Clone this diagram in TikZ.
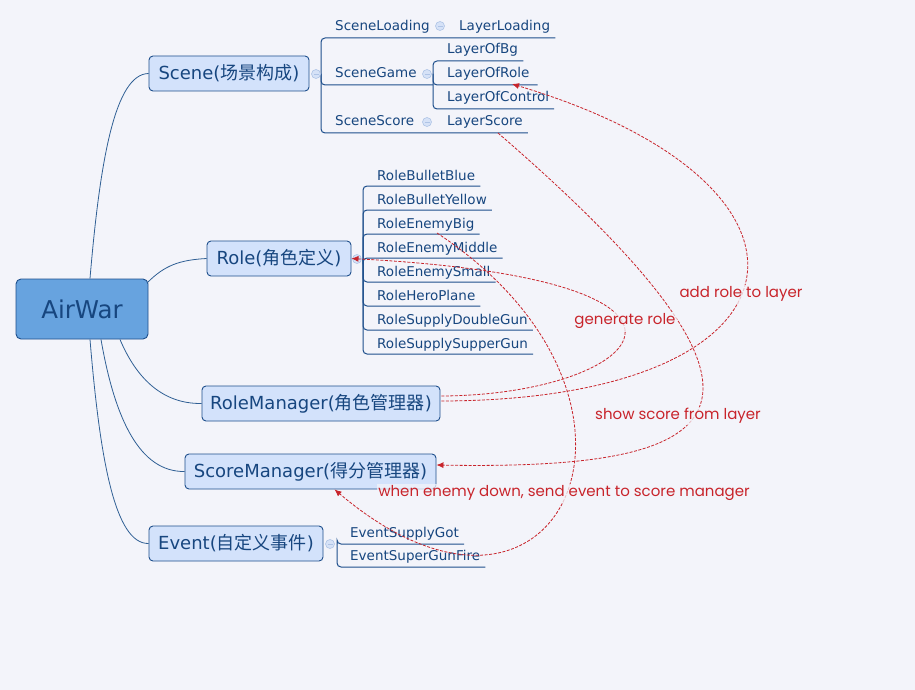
\documentclass[tikz,border=0pt]{standalone}
\usepackage{fontspec}
\setmainfont{DejaVu Sans}
\newfontfamily\cjk{Noto Sans CJK SC}
\newfontfamily\notefont{Poppins}
\usetikzlibrary{arrows.meta,calc}

\definecolor{bg}{HTML}{F3F4FA}
\definecolor{ink}{HTML}{17467F}
\definecolor{edge}{HTML}{1E4F8C}
\definecolor{twig}{HTML}{2F5F94}
\definecolor{topicfill}{HTML}{D3E2FB}
\definecolor{rootfill}{HTML}{67A3DF}
\definecolor{relred}{HTML}{C8242B}
\definecolor{knobfill}{HTML}{D6E2F7}
\definecolor{knobline}{HTML}{AFC4E6}

\tikzset{
  root/.style={draw=edge, fill=rootfill, rounded corners=5pt, line width=0.9pt,
    text=ink, font=\fontsize{24.5}{28}\selectfont, inner sep=0pt},
  topic/.style={draw=edge, fill=topicfill, rounded corners=4pt, line width=0.9pt,
    text=ink, font=\fontsize{18}{21}\selectfont, inner sep=0pt, minimum height=35pt},
  leaf/.style={text=ink, font=\fontsize{13.5}{15}\selectfont, inner sep=0pt, anchor=base west},
  branch/.style={draw=twig, line width=0.8pt},
  rail/.style={draw=edge, line width=1pt, rounded corners=4pt},
  knob/.style={circle, draw=knobline, fill=knobfill, line width=0.6pt,
    minimum size=9pt, inner sep=0pt,
    path picture={\draw[knobline, line width=0.8pt]
      ([xshift=-2.5pt]path picture bounding box.center) --
      ([xshift=2.5pt]path picture bounding box.center);}},
  rel/.style={draw=relred, line width=0.8pt, dash pattern=on 3pt off 1.5pt,
    -{Latex[length=7pt,width=6pt]}},
  note/.style={text=relred, font=\notefont\fontsize{15}{18}\selectfont,
    fill=bg, fill opacity=0.75, text opacity=1, inner sep=1.5pt}
}

\begin{document}
\begin{tikzpicture}[x=1pt,y=-1pt]
\fill[bg] (0,0) rectangle (915,690);
\useasboundingbox (0,0) rectangle (915,690);

% ---- topics ----
\node[root, minimum width=132pt, minimum height=60pt] (air) at (82,309) {AirWar};
\node[topic, minimum width=160pt] (scene)    at (229,73.5)  {Scene({\cjk 场景构成})};
\node[topic, minimum width=144pt] (role)     at (279,258.5) {Role({\cjk 角色定义})};
\node[topic, minimum width=238pt] (rolemgr)  at (321,403.5) {RoleManager({\cjk 角色管理器})};
\node[topic, minimum width=251pt] (scoremgr) at (310.5,471.5) {ScoreManager({\cjk 得分管理器})};
\node[topic, minimum width=174pt] (event)    at (236,543.5) {Event({\cjk 自定义事件})};

% ---- branches from the central topic ----
\draw[branch] ($(air.north)+(8,0)$) .. controls (100,160) and (115,74) .. (scene.west);
\draw[branch] ($(air.north east)+(-1,4)$) .. controls (165,265) and (180,260) .. (role.west);
\draw[branch] ($(air.south)+(38,0)$) .. controls (135,375) and (160,404) .. (rolemgr.west);
\draw[branch] ($(air.south)+(19,0)$) .. controls (115,420) and (140,472) .. (scoremgr.west);
\draw[branch] ($(air.south)+(8,0)$) .. controls (100,460) and (115,544) .. (event.west);

% ---- Scene subtopics ----
\coordinate (so) at (321,74);
\coordinate (go) at (433,74);
\node[leaf] (sload)  at (335,31)  {SceneLoading};
\node[leaf] (lload)  at (459,31)  {LayerLoading};
\node[leaf] (sgame)  at (335,78)  {SceneGame};
\node[leaf] (sscore) at (335,126) {SceneScore};
\node[leaf] (lbg)    at (447,54)  {LayerOfBg};
\node[leaf] (lrole)  at (447,78)  {LayerOfRole};
\node[leaf] (lctrl)  at (447,102) {LayerOfControl};
\node[leaf] (lscore) at (447,126) {LayerScore};

\draw[rail] (so) |- ($(lload.base east)+(5,7)$);
\draw[rail] (so) |- ($(sgame.base west)+(98,7)$);
\draw[rail] (so) |- ($(lscore.base east)+(5,7)$);
\draw[rail] (go) |- ($(lbg.base east)+(5,7)$);
\draw[rail] (go) |- ($(lrole.base east)+(8,7)$);
\draw[rail] (go) |- ($(lctrl.base east)+(5,7)$);

% ---- Role subtopics ----
\coordinate (ro) at (363,259);
\node[leaf] (rbb)  at (377,180) {RoleBulletBlue};
\node[leaf] (rby)  at (377,204) {RoleBulletYellow};
\node[leaf] (reb)  at (377,228) {RoleEnemyBig};
\node[leaf] (rem)  at (377,252) {RoleEnemyMiddle};
\node[leaf] (res)  at (377,276) {RoleEnemySmall};
\node[leaf] (rhp)  at (377,300) {RoleHeroPlane};
\node[leaf] (rsd)  at (377,324) {RoleSupplyDoubleGun};
\node[leaf] (rss)  at (377,348) {RoleSupplySupperGun};
\foreach \n in {rbb,rby,reb,rem,res,rhp,rsd,rss}
  \draw[rail] (ro) |- ($(\n.base east)+(5,6)$);

% ---- Event subtopics ----
\coordinate (eo) at (337,544);
\node[leaf] (egot)  at (350,537) {EventSupplyGot};
\node[leaf] (efire) at (350,560) {EventSuperGunFire};
\draw[rail] (eo) |- ($(egot.base east)+(5,7)$);
\draw[rail] (eo) |- ($(efire.base east)+(5,7)$);

% ---- collapse knobs ----
\node[knob] (k1) at (316,74)  {};
\node[knob] (k2) at (440,26)  {};
\node[knob] (k3) at (427,74)  {};
\node[knob] (k4) at (427,122) {};
\node[knob] (k5) at (357,259) {};
\node[knob] (k6) at (330,544) {};

% ---- relationships ----
\draw[rel] ($(rolemgr.east)+(1,-7.5)$) .. controls (640,395) and (760,280) .. (role.east);
\draw[rel] ($(rolemgr.east)+(1,-2.5)$) .. controls (820,400) and (850,185) .. ($(lrole.base west)+(65,6)$);
\draw[rel] ($(lscore.base west)+(51,7)$) .. controls (830,420) and (720,470) .. ($(scoremgr.east)+(0,-6.5)$);
\draw[rel] ($(reb.base west)+(60,5)$) .. controls (690,400) and (560,680) .. ($(scoremgr.south)+(24,0)$);

\node[note] (n1) at (741,294) {add role to layer};
\node[note] (n2) at (625,321) {generate role};
\node[note] (n3) at (678,416) {show score from layer};
\node[note] (n4) at (564,493) {when enemy down, send event to score manager};
\end{tikzpicture}
\end{document}
